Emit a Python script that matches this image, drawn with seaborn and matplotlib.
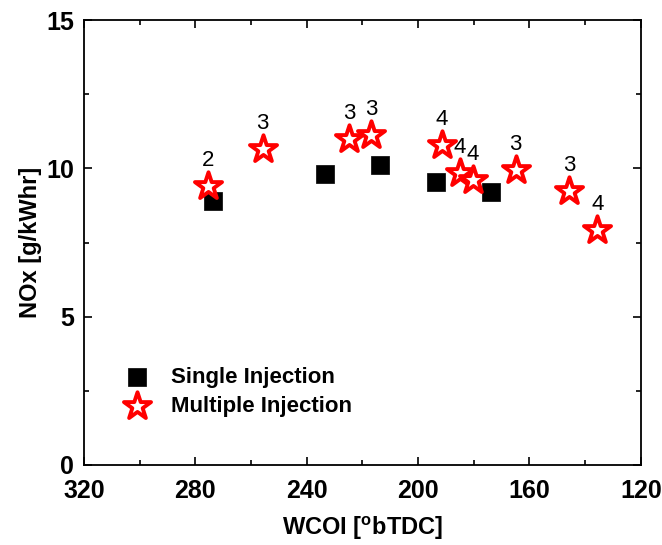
import matplotlib
matplotlib.use("Agg")
import matplotlib.pyplot as plt
import seaborn as sns
import pandas as pd
from matplotlib.ticker import MultipleLocator

# Data
single_x = [273.6, 233.6, 213.6, 193.6, 173.8]
single_y = [8.90, 9.81, 10.13, 9.55, 9.22]
multi_x = [275.6, 255.8, 224.8, 216.9, 191.6, 185.0, 180.4, 165.0, 145.7, 135.6]
multi_y = [9.40, 10.64, 10.99, 11.12, 10.79, 9.83, 9.61, 9.94, 9.24, 7.92]
multi_labels = ["2", "3", "3", "3", "4", "4", "4", "3", "3", "4"]
series_names = ["Single Injection", "Multiple Injection"]
x_label = "WCOI [$^{\\mathbf{o}}$bTDC]"
y_label = "NOx [g/kWhr]"

sns.set_style("ticks")
plt.rcParams["font.family"] = ["Liberation Sans", "DejaVu Sans"]
plt.rcParams["mathtext.fontset"] = "custom"
plt.rcParams["mathtext.bf"] = "Liberation Sans:bold"
plt.rcParams["mathtext.rm"] = "Liberation Sans"
for k in ["text.color", "axes.labelcolor", "xtick.color", "ytick.color", "axes.edgecolor"]:
    plt.rcParams[k] = "black"

df_single = pd.DataFrame({"x": single_x, "y": single_y})
df_multi = pd.DataFrame({"x": multi_x, "y": multi_y})

fig = plt.figure(figsize=(6.62, 5.45), dpi=100)
ax = fig.add_axes([0.127, 0.147, 0.841, 0.816])

sns.scatterplot(data=df_single, x="x", y="y", ax=ax, marker="s", s=155,
                color="black", edgecolor="black", linewidth=0.5,
                label=series_names[0], zorder=3)
sns.scatterplot(data=df_multi, x="x", y="y", ax=ax, marker="*", s=420,
                facecolor="white", edgecolor="red", linewidth=2.8,
                label=series_names[1], zorder=4)

for xv, yv, lab in zip(multi_x, multi_y, multi_labels):
    ax.annotate(lab, (xv, yv), xytext=(0, 11), textcoords="offset points",
                ha="center", va="bottom", fontsize=16, color="black")

ax.set_xlim(320, 120)
ax.set_ylim(0, 15)
ax.xaxis.set_major_locator(MultipleLocator(40))
ax.xaxis.set_minor_locator(MultipleLocator(20))
ax.yaxis.set_major_locator(MultipleLocator(5))
ax.yaxis.set_minor_locator(MultipleLocator(2.5))
ax.tick_params(which="both", direction="in", top=True, right=True,
               labeltop=False, labelright=False, width=1.2, color="black",
               labelcolor="black")
ax.tick_params(which="major", length=6, labelsize=18)
ax.tick_params(axis="x", which="major", pad=10)
ax.tick_params(axis="y", which="major", pad=7)
ax.tick_params(which="minor", length=3.5)
for lab in ax.get_xticklabels() + ax.get_yticklabels():
    lab.set_fontweight("bold")
for sp in ax.spines.values():
    sp.set_visible(True)
    sp.set_linewidth(1.3)
    sp.set_color("black")

ax.set_xlabel(x_label, fontsize=17, fontweight="bold", labelpad=8)
ax.set_ylabel(y_label, fontsize=17, fontweight="bold", labelpad=3)

leg = ax.legend(loc="upper left", bbox_to_anchor=(0.04, 0.24), frameon=False,
                prop={"weight": "bold", "size": 16}, handletextpad=0.5,
                labelspacing=0.35, borderaxespad=0)

fig.savefig("out.png", dpi=100)
